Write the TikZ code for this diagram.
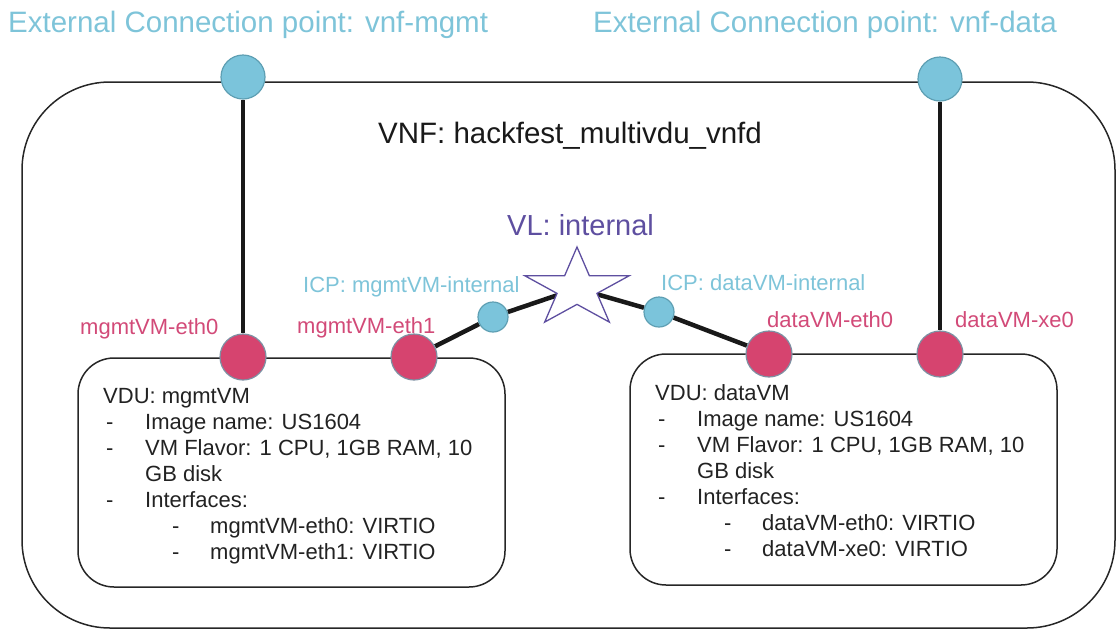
\documentclass[tikz,border=0pt]{standalone}
\usepackage{fontspec}
\setmainfont{Liberation Sans}
\usetikzlibrary{shapes.geometric}
\definecolor{extblue}{HTML}{7BC4DB}
\definecolor{extedge}{HTML}{5E9FB3}
\definecolor{lbltext}{HTML}{7EC4D9}
\definecolor{pinkfill}{HTML}{D6446F}
\definecolor{pinkedge}{HTML}{7E90A3}
\definecolor{pinktext}{HTML}{D24A78}
\definecolor{vlpurple}{HTML}{5E4FA0}
\definecolor{bodytext}{HTML}{222222}
\pgfdeclarelayer{back}
\pgfsetlayers{back,main}
\begin{document}
\begin{tikzpicture}[x=1pt,y=1pt,
  vnfbox/.style={draw=black!85, line width=1.5pt, rounded corners=88pt, rectangle, inner sep=0pt, outer sep=0pt},
  vdubox/.style={draw=black!85, line width=1.5pt, rounded corners=36pt, rectangle, inner sep=0pt, outer sep=0pt, minimum width=427pt},
  extcp/.style={circle, fill=extblue, draw=extedge, line width=1.2pt, minimum size=44pt, inner sep=0pt},
  vducp/.style={circle, fill=pinkfill, draw=pinkedge, line width=1.2pt, minimum size=46pt, inner sep=0pt},
  icp/.style={circle, fill=extblue, draw=extedge, line width=1.2pt, minimum size=30pt, inner sep=0pt},
  link/.style={draw=black!90, line width=4.5pt},
  bigtxt/.style={inner sep=0pt, anchor=base west, font=\fontsize{29.5}{34}\selectfont},
  smalltxt/.style={inner sep=0pt, anchor=base west, font=\fontsize{22}{26}\selectfont},
  body/.style={smalltxt, text=bodytext}]
\useasboundingbox (0,0) rectangle (1119,-630);

% titles
\node[bigtxt, text=lbltext] (t1) at (8,-32) {External Connection point: vnf-mgmt};
\node[bigtxt, text=lbltext] (t2) at (593,-32) {External Connection point: vnf-data};
\node[bigtxt, text=black!90] (vnft) at (378,-143) {VNF: hackfest\_multivdu\_vnfd};
\node[bigtxt, text=vlpurple, font=\fontsize{29}{34}\selectfont] (vlt) at (507,-235) {VL: internal};

% connection points
\node[extcp] (ext1) at (243,-77) {};
\node[extcp] (ext2) at (940,-79) {};
\node[vducp] (p1) at (243,-357) {};
\node[vducp] (p2) at (414,-357) {};
\node[vducp] (p3) at (769,-354) {};
\node[vducp] (p4) at (940,-354) {};
\node[icp] (icp1) at (493,-317) {};
\node[icp] (icp2) at (659,-312) {};

\begin{scope}[shift={(577,-288.5)}, xscale=1.325]
\node[star, star points=5, star point ratio=2.618, minimum size=83pt, inner sep=0pt,
      draw=vlpurple, fill=white, line width=1.3pt, transform shape] (vl) at (0,0) {};
\end{scope}

\begin{pgfonlayer}{back}
\node[vnfbox, minimum width=1093pt, minimum height=546pt] (vnf) at (568.5,-355) {};
\node[vdubox, minimum height=229pt] (vdu1) at (291.5,-472.5) {};
\node[vdubox, minimum height=231pt] (vdu2) at (843.5,-469.5) {};
\draw[link] (ext1) -- (p1);
\draw[link] (ext2) -- (p4);
\draw[link] (p2) -- (icp1) -- (vl.center);
\draw[link] (vl.center) -- (icp2) -- (p3);
\end{pgfonlayer}

% labels
\node[smalltxt, text=lbltext] (l1) at (303,-292) {ICP: mgmtVM-internal};
\node[smalltxt, text=lbltext] (l2) at (661,-290) {ICP: dataVM-internal};
\node[smalltxt, text=pinktext] (l3) at (80,-334) {mgmtVM-eth0};
\node[smalltxt, text=pinktext] (l4) at (297,-333) {mgmtVM-eth1};
\node[smalltxt, text=pinktext] (l5) at (767,-327) {dataVM-eth0};
\node[smalltxt, text=pinktext] (l6) at (955,-327) {dataVM-xe0};

% VDU mgmtVM text
\node[body] (a0) at (103,-403) {VDU: mgmtVM};
\node[body] (a1d) at (106,-429) {-};
\node[body] (a1) at (145,-429) {Image name: US1604};
\node[body] (a2d) at (106,-455) {-};
\node[body] (a2) at (145,-455) {VM Flavor: 1 CPU, 1GB RAM, 10};
\node[body] (a3) at (145,-481) {GB disk};
\node[body] (a4d) at (106,-507) {-};
\node[body] (a4) at (145,-507) {Interfaces:};
\node[body] (a5d) at (172,-533) {-};
\node[body] (a5) at (210,-533) {mgmtVM-eth0: VIRTIO};
\node[body] (a6d) at (172,-559) {-};
\node[body] (a6) at (210,-559) {mgmtVM-eth1: VIRTIO};

% VDU dataVM text
\node[body] (b0) at (655,-400) {VDU: dataVM};
\node[body] (b1d) at (658,-426) {-};
\node[body] (b1) at (697,-426) {Image name: US1604};
\node[body] (b2d) at (658,-452) {-};
\node[body] (b2) at (697,-452) {VM Flavor: 1 CPU, 1GB RAM, 10};
\node[body] (b3) at (697,-478) {GB disk};
\node[body] (b4d) at (658,-504) {-};
\node[body] (b4) at (697,-504) {Interfaces:};
\node[body] (b5d) at (724,-530) {-};
\node[body] (b5) at (762,-530) {dataVM-eth0: VIRTIO};
\node[body] (b6d) at (724,-556) {-};
\node[body] (b6) at (762,-556) {dataVM-xe0: VIRTIO};
\end{tikzpicture}
\end{document}
